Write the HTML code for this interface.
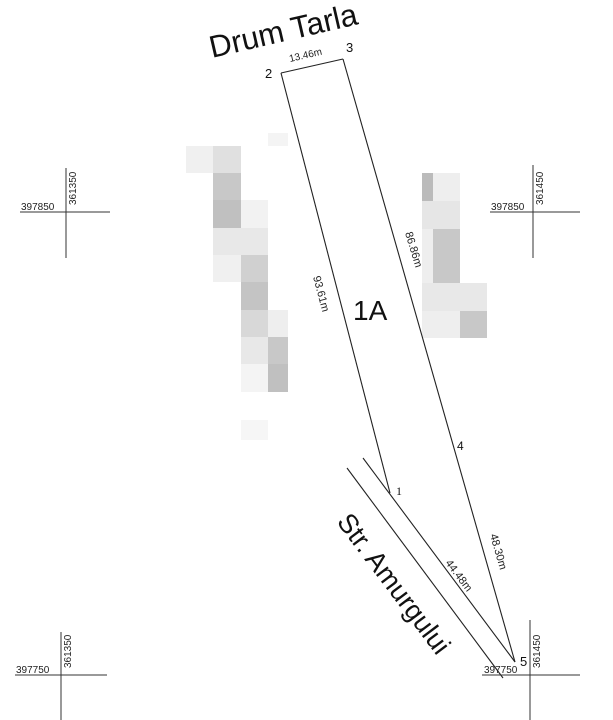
<!DOCTYPE html>
<html><head><style>
html,body{margin:0;padding:0;background:#fff;}
svg{display:block;font-family:"Liberation Sans",sans-serif;}
</style></head><body>
<svg width="613" height="720" viewBox="0 0 613 720" xmlns="http://www.w3.org/2000/svg">
<rect width="613" height="720" fill="#fff"/>
<g>
<rect x="186" y="146" width="27" height="27" fill="#f0f0f0"/>
<rect x="213" y="146" width="28" height="27" fill="#e0e0e0"/>
<rect x="268" y="133" width="20" height="13" fill="#f4f4f4"/>
<rect x="213" y="173" width="28" height="27" fill="#c8c8c8"/>
<rect x="213" y="200" width="28" height="28" fill="#c0c0c0"/>
<rect x="241" y="200" width="27" height="28" fill="#f2f2f2"/>
<rect x="213" y="228" width="28" height="27" fill="#e8e8e8"/>
<rect x="241" y="228" width="27" height="27" fill="#e8e8e8"/>
<rect x="213" y="255" width="28" height="27" fill="#f0f0f0"/>
<rect x="241" y="255" width="27" height="27" fill="#d0d0d0"/>
<rect x="241" y="282" width="27" height="28" fill="#c4c4c4"/>
<rect x="241" y="310" width="27" height="27" fill="#d8d8d8"/>
<rect x="268" y="310" width="20" height="27" fill="#eeeeee"/>
<rect x="241" y="337" width="27" height="27" fill="#e8e8e8"/>
<rect x="268" y="337" width="20" height="27" fill="#c8c8c8"/>
<rect x="241" y="364" width="27" height="28" fill="#f4f4f4"/>
<rect x="268" y="364" width="20" height="28" fill="#c0c0c0"/>
<rect x="241" y="420" width="27" height="20" fill="#f6f6f6"/>
</g>
<g>
<rect x="422" y="173" width="11" height="28" fill="#bbbbbb"/>
<rect x="433" y="173" width="27" height="28" fill="#eeeeee"/>
<rect x="422" y="201" width="38" height="28" fill="#e6e6e6"/>
<rect x="422" y="229" width="11" height="27" fill="#eeeeee"/>
<rect x="433" y="229" width="27" height="27" fill="#c8c8c8"/>
<rect x="422" y="256" width="11" height="27" fill="#eeeeee"/>
<rect x="433" y="256" width="27" height="27" fill="#c8c8c8"/>
<rect x="422" y="283" width="65" height="28" fill="#e8e8e8"/>
<rect x="422" y="311" width="38" height="27" fill="#eeeeee"/>
<rect x="460" y="311" width="27" height="27" fill="#c8c8c8"/>
</g>
<g stroke="#222" stroke-width="1.1" fill="none">
<line x1="281" y1="73" x2="343" y2="59"/>
<line x1="281" y1="73" x2="390" y2="493"/>
<line x1="343" y1="59" x2="515" y2="662"/>
<line x1="363" y1="458" x2="515" y2="662"/>
<line x1="347" y1="468" x2="503" y2="678"/>
</g>
<g stroke="#333" stroke-width="1" fill="none">
<line x1="20" y1="212" x2="110" y2="212"/><line x1="66" y1="168" x2="66" y2="258"/>
<line x1="490" y1="212" x2="580" y2="212"/><line x1="533" y1="165" x2="533" y2="258"/>
<line x1="15" y1="675" x2="107" y2="675"/><line x1="61" y1="632" x2="61" y2="720"/>
<line x1="482" y1="675" x2="580" y2="675"/><line x1="530" y1="620" x2="530" y2="720"/>
</g>
<g font-size="10" fill="#222">
<text x="21" y="210">397850</text>
<text x="76" y="205" transform="rotate(-90 76 205)">361350</text>
<text x="491" y="210">397850</text>
<text x="543" y="205" transform="rotate(-90 543 205)">361450</text>
<text x="16" y="673">397750</text>
<text x="71" y="668" transform="rotate(-90 71 668)">361350</text>
<text x="484" y="673">397750</text>
<text x="540" y="668" transform="rotate(-90 540 668)">361450</text>
</g>
<text x="212" y="58" font-size="31" fill="#111" transform="rotate(-13 212 58)">Drum Tarla</text>
<text x="290" y="62" font-size="10" fill="#222" transform="rotate(-13 290 62)">13.46m</text>
<text x="265" y="78" font-size="13" fill="#111">2</text>
<text x="346" y="52" font-size="13" fill="#111">3</text>
<text x="396" y="495" font-size="12" fill="#111" font-family="Liberation Serif">1</text>
<text x="457" y="450" font-size="12" fill="#111">4</text>
<text x="520" y="666" font-size="13" fill="#111">5</text>
<text x="353" y="320" font-size="28" fill="#111">1A</text>
<text x="313" y="277" font-size="11" fill="#222" transform="rotate(75 313 277)">93.61m</text>
<text x="405" y="233" font-size="11" fill="#222" transform="rotate(73 405 233)">86.86m</text>
<text x="490" y="535" font-size="11" fill="#222" transform="rotate(74 490 535)">48.30m</text>
<text x="445" y="563" font-size="11" fill="#222" transform="rotate(53 445 563)">44.48m</text>
<text x="336" y="522" font-size="27" fill="#111" transform="rotate(53 336 522)">Str. Amurgului</text>
</svg>
</body></html>
